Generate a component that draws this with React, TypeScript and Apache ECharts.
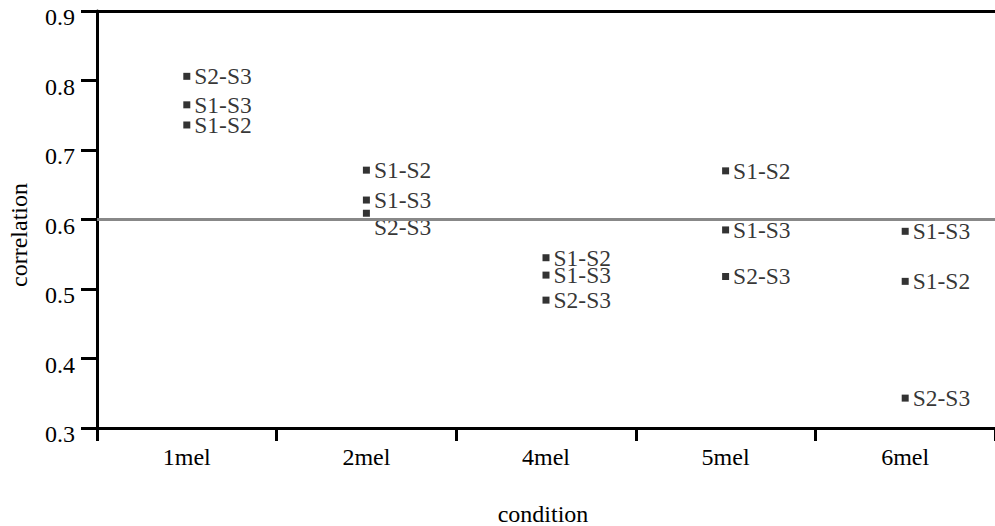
import React, { useEffect, useRef } from "react";
import * as echarts from "echarts";

const categories = ["1mel", "2mel", "4mel", "5mel", "6mel"];
const s1s2 = [0.736, 0.671, 0.545, 0.67, 0.511];
const s1s3 = [0.765, 0.628, 0.52, 0.585, 0.583];
const s2s3 = [0.806, 0.609, 0.484, 0.518, 0.343];
const yTicks = { min: 0.3, max: 0.9, interval: 0.1 };
const refLine = 0.6;

const FONT = "Liberation Serif";

export default function App() {
  const ref = useRef<HTMLDivElement>(null);
  useEffect(() => {
    if (!ref.current) return;
    const chart = echarts.init(ref.current, null, { renderer: "svg" });
    const mkSeries = (name: string, data: number[], extra: any = {}) => ({
      name,
      type: "scatter",
      symbol: "rect",
      symbolSize: 7,
      itemStyle: { color: "#000" },
      data: data.map((v, i) => {
        const d: any = { value: v };
        if (name === "S2-S3" && i === 1) {
          d.label = { offset: [0, 14] };
        }
        return d;
      }),
      label: {
        show: true,
        position: "right",
        distance: 4,
        formatter: () => name,
        fontFamily: FONT,
        fontSize: 23.5,
        color: "#000",
      },
      ...extra,
    });
    chart.setOption({
      animation: false,
      backgroundColor: "#fff",
      textStyle: { fontFamily: FONT },
      grid: { left: 97, top: 11, height: 417, width: 904 },
      xAxis: [
        {
          type: "category",
          data: categories,
          boundaryGap: true,
          axisLine: { lineStyle: { color: "#000", width: 3 } },
          axisTick: { show: true, length: 13, lineStyle: { color: "#000", width: 3 } },
          axisLabel: { fontFamily: FONT, fontSize: 24, color: "#000", margin: 17 },
          splitLine: { show: false },
        },
        {
          type: "category",
          data: categories,
          position: "top",
          axisLine: { lineStyle: { color: "#000", width: 3 } },
          axisTick: { show: false },
          axisLabel: { show: false },
          splitLine: { show: false },
        },
      ],
      yAxis: {
        type: "value",
        min: yTicks.min,
        max: yTicks.max,
        interval: yTicks.interval,
        axisLine: { show: true, lineStyle: { color: "#000", width: 3 } },
        axisTick: { show: true, length: 16, lineStyle: { color: "#000", width: 3 } },
        axisLabel: {
          fontFamily: FONT,
          fontSize: 24,
          color: "#000",
          margin: 22,
          verticalAlign: "top",
          lineHeight: 12,
          formatter: (v: number) => v.toFixed(1),
        },
        splitLine: { show: false },
      },
      graphic: [
        {
          type: "text",
          x: 19,
          y: 235,
          rotation: Math.PI / 2,
          style: {
            text: "correlation",
            fontFamily: FONT,
            fontSize: 24,
            fill: "#000",
            align: "center",
            verticalAlign: "middle",
          },
        },
        {
          type: "text",
          x: 543,
          y: 514,
          style: {
            text: "condition",
            fontFamily: FONT,
            fontSize: 24,
            fill: "#000",
            align: "center",
            verticalAlign: "middle",
          },
        },
      ],
      series: [
        mkSeries("S1-S2", s1s2, {
          markLine: {
            silent: true,
            symbol: "none",
            label: { show: false },
            lineStyle: { color: "#888", width: 3, type: "solid" },
            data: [{ yAxis: refLine }],
          },
        }),
        mkSeries("S1-S3", s1s3),
        mkSeries("S2-S3", s2s3),
      ],
    });
    return () => chart.dispose();
  }, []);
  return (
    <div
      ref={ref}
      style={{ position: "absolute", left: 0, top: 0, width: 995, height: 526 }}
    />
  );
}
